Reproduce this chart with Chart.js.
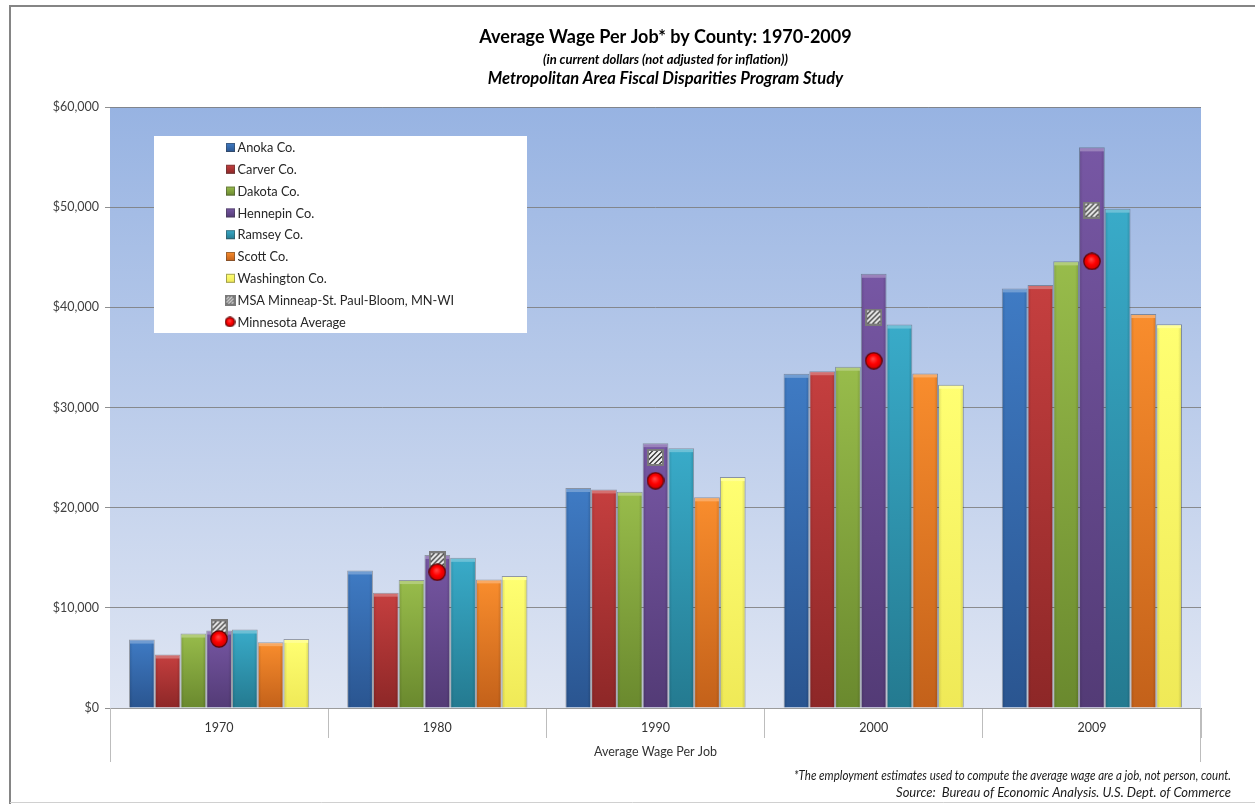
<!DOCTYPE html>
<html>
<head>
<meta charset="utf-8">
<title>Average Wage Per Job by County: 1970-2009</title>
<script src="https://cdn.jsdelivr.net/npm/chart.js@4.4.1/dist/chart.umd.min.js"></script>
<style>
  html, body { margin: 0; padding: 0; background: #ffffff; }
  #wrap { width: 1255px; height: 804px; position: relative; }
</style>
</head>
<body>
<div id="wrap"><canvas id="chart" width="1255" height="804"></canvas></div>
<script>
// ---- data ----
const years = ['1970', '1980', '1990', '2000', '2009'];

const anoka      = [6830, 13730, 21960, 33360, 41890];
const carver     = [5340, 11510, 21820, 33620, 42220];
const dakota     = [7430, 12770, 21590, 34070, 44590];
const hennepin   = [7730, 15280, 26440, 43350, 55970];
const ramsey     = [7830, 14990, 25940, 38280, 49850];
const scott      = [6570, 12840, 21030, 33400, 39330];
const washington = [6900, 13170, 23050, 32270, 38320];
const msaMetro   = [7990, 14790, 25010, 39030, 49700];
const mnAverage  = [6900, 13560, 22690, 34670, 44590];

const yTicks = [0, 10000, 20000, 30000, 40000, 50000, 60000];

const countyNames = ['Anoka Co.', 'Carver Co.', 'Dakota Co.', 'Hennepin Co.', 'Ramsey Co.', 'Scott Co.', 'Washington Co.'];
const countyValues = [anoka, carver, dakota, hennepin, ramsey, scott, washington];
const msaName = 'MSA Minneap-St. Paul-Bloom, MN-WI';
const mnName = 'Minnesota Average';

// ---- styling ----
const FONT = 'Lato, "Open Sans", "DejaVu Sans", sans-serif';
const countyShades = [
  ['#3f7bc4', '#2a5590'],
  ['#c53f3f', '#8d2727'],
  ['#98bc4b', '#6a892e'],
  ['#7757a4', '#533b76'],
  ['#39abc9', '#247a90'],
  ['#f98d2d', '#c3611a'],
  ['#ffff72', '#efe957']
];

function barFill(top, bottom) {
  return (c) => {
    const chart = c.chart;
    if (c.type !== 'data' || !chart.scales || !chart.scales.y || !c.parsed) return top;
    const ys = chart.scales.y;
    const y0 = ys.getPixelForValue(c.parsed.y);
    const y1 = ys.getPixelForValue(0);
    if (!isFinite(y0) || !isFinite(y1) || y0 === y1) return top;
    const g = chart.ctx.createLinearGradient(0, y0, 0, y1);
    g.addColorStop(0, top);
    g.addColorStop(1, bottom);
    return g;
  };
}

function hatchSquare(size) {
  const c = document.createElement('canvas');
  c.width = c.height = size;
  const g = c.getContext('2d');
  g.fillStyle = '#333333';
  g.fillRect(0, 0, size, size);
  g.save();
  g.beginPath();
  g.rect(2, 2, size - 4, size - 4);
  g.clip();
  g.strokeStyle = '#f4f4f4';
  g.lineWidth = size * 0.13;
  for (let k = -size; k < 2 * size; k += size / 3.4) {
    g.beginPath();
    g.moveTo(k, size);
    g.lineTo(k + size, 0);
    g.stroke();
  }
  g.restore();
  g.strokeStyle = '#7a7a7a';
  g.lineWidth = 2;
  g.strokeRect(1, 1, size - 2, size - 2);
  return c;
}

function redDot(d) {
  const c = document.createElement('canvas');
  c.width = c.height = d;
  const g = c.getContext('2d');
  const r = d / 2 - 0.8;
  const grad = g.createRadialGradient(d * 0.45, d * 0.38, 0, d / 2, d / 2, r);
  grad.addColorStop(0, '#ff4a4a');
  grad.addColorStop(0.55, '#ff0000');
  grad.addColorStop(1, '#cc0000');
  g.beginPath();
  g.arc(d / 2, d / 2, r, 0, Math.PI * 2);
  g.fillStyle = grad;
  g.fill();
  g.lineWidth = 1.2;
  g.strokeStyle = '#5c0000';
  g.stroke();
  return c;
}

const msaMarker = hatchSquare(17);
const mnMarker = redDot(18);
const msaLegendMarker = hatchSquare(11);
const mnLegendMarker = redDot(11);

const datasets = [];
countyNames.forEach((name, i) => {
  datasets.push({
    type: 'bar',
    label: name,
    data: countyValues[i],
    backgroundColor: barFill(countyShades[i][0], countyShades[i][1]),
    borderColor: 'rgba(25,25,25,0.35)',
    borderWidth: 1,
    borderSkipped: 'bottom',
    categoryPercentage: 0.826,
    barPercentage: 1.0,
    order: 2
  });
});
datasets.push({
  type: 'line',
  label: msaName,
  data: msaMetro,
  showLine: false,
  pointStyle: msaMarker,
  pointRadius: 8,
  pointHoverRadius: 8,
  order: 1
});
datasets.push({
  type: 'line',
  label: mnName,
  data: mnAverage,
  showLine: false,
  pointStyle: mnMarker,
  pointRadius: 9,
  pointHoverRadius: 9,
  order: 0
});

// ---- decorations drawn around the library's chart ----
const PLOT_TOP_COLOR = '#97b3e2';
const PLOT_BOTTOM_COLOR = '#e0e6f3';

const frame = {
  id: 'frame',
  beforeDraw(chart) {
    const { ctx, chartArea: a } = chart;
    ctx.save();
    ctx.fillStyle = '#ffffff';
    ctx.fillRect(0, 0, chart.width, chart.height);
    ctx.strokeStyle = '#858585';
    ctx.lineWidth = 2;
    ctx.beginPath();
    ctx.moveTo(10, chart.height);
    ctx.lineTo(10, 6);
    ctx.lineTo(chart.width, 6);
    ctx.stroke();
    ctx.strokeStyle = '#d0d0d0';
    ctx.lineWidth = 1;
    ctx.beginPath();
    ctx.moveTo(10, 802.5);
    ctx.lineTo(chart.width, 802.5);
    ctx.stroke();
    const g = ctx.createLinearGradient(0, a.top, 0, a.bottom);
    g.addColorStop(0, PLOT_TOP_COLOR);
    g.addColorStop(1, PLOT_BOTTOM_COLOR);
    ctx.fillStyle = g;
    ctx.fillRect(a.left, a.top, a.right - a.left, a.bottom - a.top);
    ctx.restore();
  }
};

const barBevel = {
  id: 'barBevel',
  afterDatasetDraw(chart, args) {
    const meta = args.meta;
    if (meta.type !== 'bar') return;
    const ctx = chart.ctx;
    ctx.save();
    meta.data.forEach((bar) => {
      const p = bar.getProps(['x', 'y', 'base', 'width'], true);
      const l = p.x - p.width / 2 + 1;
      const w = p.width - 2;
      ctx.fillStyle = 'rgba(255,255,255,0.26)';
      ctx.fillRect(l, p.y + 1, w, 3);
      const sg = ctx.createLinearGradient(l, 0, l + w, 0);
      sg.addColorStop(0, 'rgba(0,0,0,0.10)');
      sg.addColorStop(0.12, 'rgba(0,0,0,0)');
      sg.addColorStop(0.88, 'rgba(0,0,0,0)');
      sg.addColorStop(1, 'rgba(0,0,0,0.12)');
      ctx.fillStyle = sg;
      ctx.fillRect(l, p.y + 4, w, p.base - p.y - 4);
    });
    ctx.restore();
  }
};

const annotations = {
  id: 'annotations',
  afterDraw(chart) {
    const { ctx, chartArea: a } = chart;
    ctx.save();

    // outer dividers of the category axis
    ctx.strokeStyle = '#bdbdbd';
    ctx.lineWidth = 1;
    ctx.beginPath();
    ctx.moveTo(Math.round(a.left) + 0.5, a.bottom);
    ctx.lineTo(Math.round(a.left) + 0.5, 762);
    ctx.moveTo(Math.round(a.right) - 0.5, a.bottom);
    ctx.lineTo(Math.round(a.right) - 0.5, 762);
    ctx.stroke();

    // titles
    const cx = 665.5;
    ctx.fillStyle = '#000000';
    ctx.textAlign = 'center';
    ctx.textBaseline = 'middle';
    ctx.font = 'bold 18px ' + FONT;
    ctx.fillText('Average Wage Per Job* by County: 1970-2009', cx, 37.5, 376);
    ctx.font = 'italic bold 13px ' + FONT;
    ctx.fillText('(in current dollars (not adjusted for inflation))', cx, 59.5, 270);
    ctx.font = 'italic bold 16.5px ' + FONT;
    ctx.fillText('Metropolitan Area Fiscal Disparities Program Study', cx, 78.5, 360);

    // footnotes
    ctx.fillStyle = '#1a1a1a';
    ctx.textAlign = 'right';
    ctx.font = 'italic 13px ' + FONT;
    ctx.fillText('*The employment estimates used to compute the average wage are a job, not person, count.', 1231, 776, 437);
    ctx.fillText('Source:  Bureau of Economic Analysis. U.S. Dept. of Commerce', 1231, 793, 337);

    // legend
    ctx.fillStyle = '#ffffff';
    ctx.fillRect(154, 136, 373, 197);
    ctx.textAlign = 'left';
    ctx.textBaseline = 'middle';
    ctx.font = '12.8px ' + FONT;
    const rowTop = 147.5, rowGap = 21.8;
    chart.data.datasets.forEach((ds, i) => {
      const y = rowTop + i * rowGap;
      if (ds.type === 'bar') {
        const sh = countyShades[i];
        const g = ctx.createLinearGradient(0, y - 4.5, 0, y + 4.5);
        g.addColorStop(0, sh[0]);
        g.addColorStop(1, sh[1]);
        ctx.fillStyle = g;
        ctx.fillRect(226, y - 4.5, 9, 9);
        ctx.strokeStyle = 'rgba(60,60,60,0.45)';
        ctx.strokeRect(226.5, y - 4, 8, 8);
      } else if (ds.label === msaName) {
        ctx.drawImage(msaLegendMarker, 224.5, y - 5.5);
      } else {
        ctx.drawImage(mnLegendMarker, 224.5, y - 5.5);
      }
      ctx.fillStyle = '#262626';
      ctx.fillText(ds.label, 237.5, y + 0.5);
    });

    ctx.restore();
  }
};

Chart.defaults.font.family = FONT;
Chart.defaults.color = '#404040';

new Chart(document.getElementById('chart'), {
  data: { labels: years, datasets },
  options: {
    responsive: false,
    animation: false,
    events: [],
    layout: { padding: { top: 107, right: 54, left: 0, bottom: 0 } },
    plugins: {
      legend: { display: false },
      title: { display: false },
      tooltip: { enabled: false }
    },
    scales: {
      x: {
        type: 'category',
        offset: true,
        grid: {
          offset: true,
          drawOnChartArea: false,
          drawTicks: true,
          tickLength: 30,
          color: '#bdbdbd'
        },
        border: { display: true, color: '#9c9c9c' },
        ticks: { padding: -18, font: { size: 12.5 }, color: '#333333', maxRotation: 0 },
        title: {
          display: true,
          text: 'Average Wage Per Job',
          font: { size: 12.5 },
          color: '#333333',
          padding: { top: 4, bottom: 45 }
        },
        afterFit(scale) { scale.height = 96; }
      },
      y: {
        min: 0,
        max: 60000,
        afterBuildTicks(scale) { scale.ticks = yTicks.map(v => ({ value: v })); },
        grid: {
          color: 'rgba(125,125,125,0.85)',
          drawTicks: true,
          tickLength: 5
        },
        border: { display: false },
        ticks: {
          padding: 6,
          font: { size: 12.5 },
          color: '#404040',
          callback: (v) => '$' + Number(v).toLocaleString('en-US')
        },
        afterFit(scale) { scale.width = 110; }
      }
    }
  },
  plugins: [frame, barBevel, annotations]
});
</script>
</body>
</html>
